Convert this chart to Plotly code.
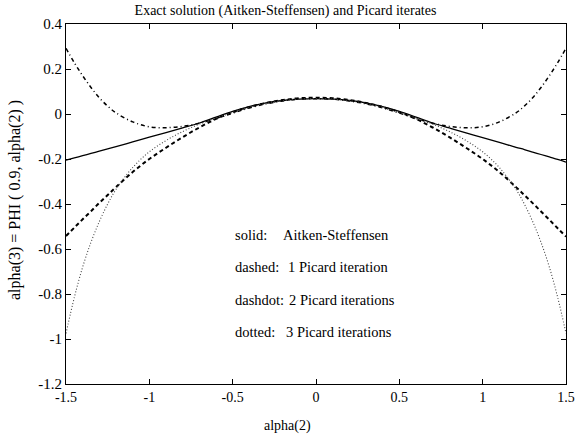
import plotly.graph_objects as go

# alpha(2) sample points
alpha2 = [-1.5, -1.45, -1.4, -1.35, -1.3, -1.25, -1.2, -1.1, -1.0, -0.9, -0.8, -0.7,
          -0.6, -0.5, -0.4, -0.3, -0.2, -0.1, 0.0, 0.1, 0.2, 0.3, 0.4, 0.5, 0.6,
          0.7, 0.8, 0.9, 1.0, 1.1, 1.2, 1.25, 1.3, 1.35, 1.4, 1.45, 1.5]

# exact solution (Aitken-Steffensen)
aitken = [-0.205, -0.195, -0.185, -0.175, -0.165, -0.155, -0.145, -0.124, -0.103, -0.083,
          -0.062, -0.040, -0.014, 0.012, 0.033, 0.049, 0.060, 0.066, 0.068, 0.066, 0.060,
          0.049, 0.033, 0.012, -0.014, -0.040, -0.062, -0.084, -0.105, -0.126, -0.148,
          -0.158, -0.169, -0.180, -0.191, -0.202, -0.214]

# one Picard iteration
picard1 = [-0.542, -0.505, -0.468, -0.432, -0.395, -0.360, -0.325, -0.258, -0.200, -0.150,
           -0.103, -0.060, -0.022, 0.008, 0.031, 0.049, 0.062, 0.070, 0.072, 0.070, 0.062,
           0.049, 0.031, 0.008, -0.022, -0.060, -0.103, -0.150, -0.200, -0.258, -0.325,
           -0.360, -0.396, -0.433, -0.470, -0.508, -0.545]

# two Picard iterations
picard2 = [0.292, 0.228, 0.170, 0.118, 0.072, 0.035, 0.005, -0.035, -0.057, -0.061,
           -0.055, -0.041, -0.020, 0.004, 0.027, 0.045, 0.058, 0.066, 0.068, 0.066, 0.058,
           0.045, 0.027, 0.004, -0.020, -0.041, -0.055, -0.061, -0.057, -0.035, 0.005,
           0.035, 0.072, 0.118, 0.170, 0.228, 0.292]

# three Picard iterations
picard3 = [-0.975, -0.815, -0.680, -0.570, -0.478, -0.400, -0.335, -0.238, -0.168, -0.118,
           -0.078, -0.045, -0.018, 0.007, 0.030, 0.047, 0.059, 0.066, 0.068, 0.066, 0.059,
           0.047, 0.030, 0.007, -0.018, -0.045, -0.078, -0.118, -0.168, -0.238, -0.335,
           -0.400, -0.478, -0.570, -0.680, -0.815, -0.975]

x_ticks = [-1.5, -1, -0.5, 0, 0.5, 1, 1.5]
x_tick_text = ["-1.5", "-1", "-0.5", "0", "0.5", "1", "1.5"]
y_ticks = [-1.2, -1, -0.8, -0.6, -0.4, -0.2, 0, 0.2, 0.4]
y_tick_text = ["-1.2", "-1", "-0.8", "-0.6", "-0.4", "-0.2", "0", "0.2", "0.4"]

legend_keys = ["solid:", "dashed:", "dashdot:", "dotted:"]
legend_text = ["Aitken-Steffensen", "1 Picard iteration", "2 Picard iterations", "3 Picard iterations"]
legend_y = [-0.538, -0.682, -0.827, -0.969]
legend_text_x = [-0.21, -0.178, -0.172, -0.19]

FONT = "Liberation Serif, Times New Roman, serif"

fig = go.Figure()
fig.add_trace(go.Scatter(x=alpha2, y=aitken, mode="lines",
                         line=dict(color="black", width=1.3, shape="spline")))
fig.add_trace(go.Scatter(x=alpha2, y=picard1, mode="lines",
                         line=dict(color="black", width=2, dash="4px,3px", shape="spline")))
fig.add_trace(go.Scatter(x=alpha2, y=picard2, mode="lines",
                         line=dict(color="black", width=1.5, dash="4px,3px,1px,3px", shape="spline")))
fig.add_trace(go.Scatter(x=alpha2, y=picard3, mode="lines",
                         line=dict(color="#444444", width=1.1, dash="1px,2px", shape="spline")))

annotations = []
for key, txt, yy, tx in zip(legend_keys, legend_text, legend_y, legend_text_x):
    annotations.append(dict(x=-0.5, y=yy, xref="x", yref="y", text=key, showarrow=False,
                            xanchor="left", yanchor="middle",
                            font=dict(family=FONT, size=14.5, color="black")))
    annotations.append(dict(x=tx, y=yy, xref="x", yref="y", text=txt, showarrow=False,
                            xanchor="left", yanchor="middle",
                            font=dict(family=FONT, size=14.5, color="black")))

# axis titles, placed in paper coordinates
annotations.append(dict(x=(287 - 66) / 500, y=(384 - 426) / 360, xref="paper", yref="paper",
                        text="alpha(2)", showarrow=False, xanchor="center", yanchor="middle",
                        font=dict(family=FONT, size=14, color="black")))
annotations.append(dict(x=(15 - 66) / 500, y=(384 - 200) / 360, xref="paper", yref="paper",
                        text="alpha(3) = PHI ( 0.9, alpha(2) )", textangle=-90,
                        showarrow=False, xanchor="center", yanchor="middle",
                        font=dict(family=FONT, size=16, color="black")))

axis_common = dict(showgrid=False, zeroline=False, showline=True, linecolor="black",
                   linewidth=1.2, mirror="ticks", ticks="inside", ticklen=5,
                   tickcolor="black", tickwidth=1, automargin=False)

fig.update_layout(
    width=577, height=441,
    autosize=False,
    margin=dict(l=66, r=11, t=24, b=57, autoexpand=False),
    paper_bgcolor="white", plot_bgcolor="white",
    showlegend=False,
    annotations=annotations,
    title=dict(text="Exact solution (Aitken-Steffensen) and Picard iterates",
               xref="container", yref="container", x=285.5 / 577, y=1 - 10 / 441,
               xanchor="center", yanchor="middle",
               font=dict(family=FONT, size=14, color="black")),
    xaxis=dict(range=[-1.5, 1.5], tickvals=x_ticks, ticktext=x_tick_text,
               tickfont=dict(family=FONT, size=14, color="black"), **axis_common),
    yaxis=dict(range=[-1.2, 0.4], tickvals=y_ticks, ticktext=y_tick_text,
               tickfont=dict(family=FONT, size=15, color="black"), **axis_common),
)

fig.write_html("out.html")
